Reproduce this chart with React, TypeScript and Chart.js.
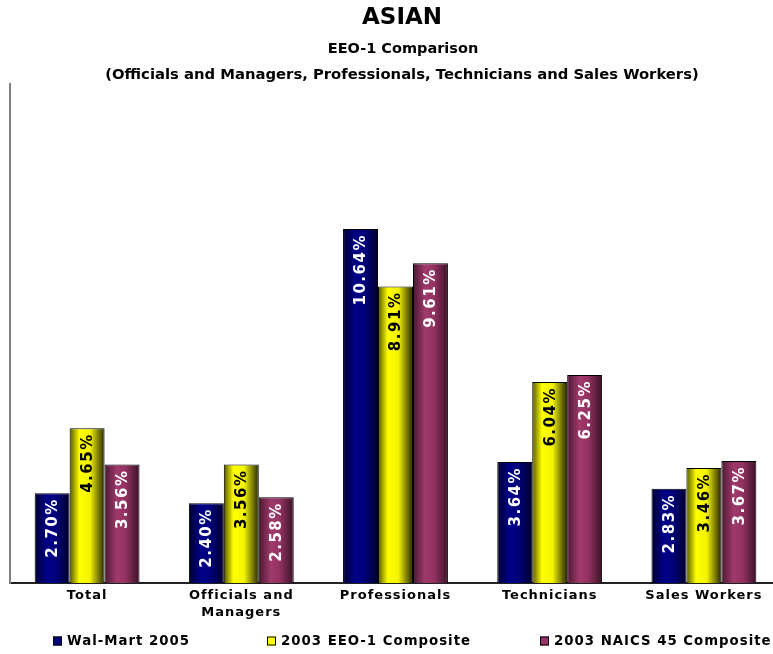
import React, { useEffect, useRef } from "react";
import { Chart, registerables } from "chart.js";

Chart.register(...registerables);

const TITLE = "ASIAN";
const SUBTITLES = ["EEO-1 Comparison", "(Officials and Managers, Professionals, Technicians and Sales Workers)"];
const CATEGORIES: (string | string[])[] = ["Total", ["Officials and", "Managers"], "Professionals", "Technicians", "Sales Workers"];
const SERIES_NAMES = ["Wal-Mart 2005", "2003 EEO-1 Composite", "2003 NAICS 45 Composite"];
const WALMART_2005 = [2.7, 2.4, 10.64, 3.64, 2.83];
const EEO1_2003 = [4.65, 3.56, 8.91, 6.04, 3.46];
const NAICS45_2003 = [3.56, 2.58, 9.61, 6.25, 3.67];
const Y_MIN = 0;
const Y_MAX = 15;

const SOLID = ["#000080", "#ffff00", "#993366"];
const LABEL_COLORS = ["#ffffff", "#000000", "#ffffff"];
const GRADIENTS: [number, string][][] = [
  [[0, "#000030"], [0.35, "#000088"], [0.6, "#00007c"], [1, "#00002c"]],
  [[0, "#555500"], [0.28, "#ffff00"], [0.58, "#f4f400"], [1, "#262600"]],
  [[0, "#4a1830"], [0.35, "#a03a6c"], [0.6, "#933262"], [1, "#3a1226"]],
];
const CAT_PCT = 0.68;
const FONT = "'DejaVu Sans', Verdana, sans-serif";
const LEGEND_X = [53, 267, 540];

function barGradient(ctx: any) {
  const chart = ctx.chart;
  const xs = chart.scales && chart.scales.x;
  const di = ctx.datasetIndex ?? 0;
  if (!xs || ctx.type !== "data" || !isFinite(xs.width) || xs.width <= 0) return SOLID[di];
  const catW = xs.width / CATEGORIES.length;
  const barW = (catW * CAT_PCT) / 3;
  const center = xs.getPixelForValue(ctx.dataIndex) + (di - 1) * barW;
  const left = center - barW / 2;
  const g = chart.ctx.createLinearGradient(left, 0, left + barW, 0);
  GRADIENTS[di].forEach(([s, c]) => g.addColorStop(s, c));
  return g;
}

const decor = {
  id: "decor",
  beforeDraw(chart: any) {
    chart.ctx.letterSpacing = "1px";
  },
  afterDatasetsDraw(chart: any) {
    const ctx = chart.ctx;
    chart.data.datasets.forEach((ds: any, di: number) => {
      const meta = chart.getDatasetMeta(di);
      meta.data.forEach((el: any, i: number) => {
        const v = ds.data[i];
        ctx.save();
        ctx.letterSpacing = "1.5px";
        ctx.font = `bold 15px ${FONT}`;
        ctx.fillStyle = LABEL_COLORS[di];
        ctx.translate(el.x, el.y + 5);
        ctx.rotate(-Math.PI / 2);
        ctx.textAlign = "right";
        ctx.textBaseline = "middle";
        ctx.fillText(v.toFixed(2) + "%", 0, 1);
        ctx.restore();
      });
    });
  },
  afterDraw(chart: any) {
    const ctx = chart.ctx;
    ctx.save();
    ctx.letterSpacing = "0px";
    ctx.fillStyle = "#000";
    ctx.textAlign = "center";
    ctx.textBaseline = "middle";
    ctx.font = `bold 23px ${FONT}`;
    ctx.fillText(TITLE, 402, 18);
    ctx.font = `bold 14.5px ${FONT}`;
    ctx.fillText(SUBTITLES[0], 403, 49);
    ctx.font = `bold 14.8px ${FONT}`;
    ctx.fillText(SUBTITLES[1], 402, 75);
    ctx.restore();

    ctx.save();
    ctx.letterSpacing = "1px";
    ctx.font = `bold 13.3px ${FONT}`;
    ctx.textAlign = "left";
    ctx.textBaseline = "middle";
    SERIES_NAMES.forEach((name, i) => {
      const x = LEGEND_X[i];
      const y = 641;
      ctx.fillStyle = SOLID[i];
      ctx.fillRect(x, y - 4.5, 9, 9);
      ctx.strokeStyle = "#000";
      ctx.lineWidth = 1;
      ctx.strokeRect(x + 0.5, y - 4, 8, 8);
      ctx.fillStyle = "#000";
      ctx.fillText(name, x + 14, y + 1);
    });
    ctx.restore();
  },
};

export default function App() {
  const ref = useRef<HTMLCanvasElement>(null);
  useEffect(() => {
    if (!ref.current) return;
    const chart = new Chart(ref.current, {
      type: "bar",
      data: {
        labels: CATEGORIES,
        datasets: [WALMART_2005, EEO1_2003, NAICS45_2003].map((d, i) => ({
          label: SERIES_NAMES[i],
          data: d,
          backgroundColor: barGradient,
          borderColor: "#000",
          borderWidth: 1,
          borderSkipped: "bottom",
          categoryPercentage: CAT_PCT,
          barPercentage: 1,
        })),
      },
      options: {
        responsive: false,
        animation: false,
        devicePixelRatio: 1,
        layout: { padding: { top: 84, left: 10, right: 9, bottom: 0 } },
        plugins: { legend: { display: false }, title: { display: false }, tooltip: { enabled: false } },
        scales: {
          x: {
            grid: { display: false, drawTicks: false },
            border: { display: true, color: "#222", width: 2 },
            ticks: {
              color: "#000",
              padding: 4,
              font: { family: FONT, weight: "bold", size: 13, lineHeight: 1.3 },
              maxRotation: 0,
              autoSkip: false,
            },
            afterFit: (s: any) => {
              s.height = 71;
            },
          },
          y: {
            min: Y_MIN,
            max: Y_MAX,
            grid: { display: false, drawTicks: false },
            border: { display: true, color: "#808080", width: 2 },
            ticks: { display: false },
            afterFit: (s: any) => {
              s.width = 0;
            },
          },
        },
      },
      plugins: [decor],
    } as any);
    return () => chart.destroy();
  }, []);
  return (
    <div style={{ position: "absolute", left: 0, top: 0, width: 773, height: 654, overflow: "hidden", background: "#fff" }}>
      <canvas ref={ref} width={790} height={654} style={{ display: "block" }} />
    </div>
  );
}
